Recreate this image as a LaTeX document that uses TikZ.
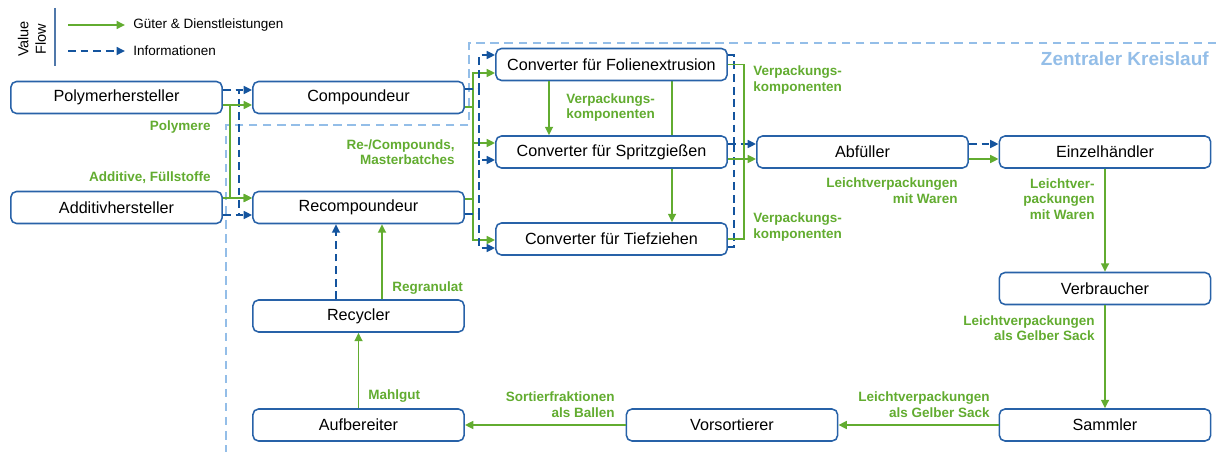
\documentclass[tikz,border=0pt]{standalone}
\usepackage{fontspec}
\setmainfont{Liberation Sans}
\setsansfont{Liberation Sans}
\usepackage{tikz}
\usetikzlibrary{calc, arrows.meta, backgrounds}
\definecolor{goodsgreen}{RGB}{98,172,48}
\definecolor{infoblue}{RGB}{20,84,158}
\definecolor{boxblue}{RGB}{40,98,168}
\definecolor{zoneblue}{RGB}{148,190,232}
\definecolor{legendblue}{RGB}{80,120,170}

\tikzset{
  actor/.style={draw=boxblue, line width=1.1pt, rounded corners=4pt, fill=white,
    minimum width=5.28cm, minimum height=0.8cm, inner sep=0pt,
    font=\fontsize{11.5}{13}\selectfont, text=black},
  converter/.style={actor, minimum width=5.78cm},
  goods/.style={goodsgreen, line width=1.4pt, -{Triangle[length=6pt,width=5.6pt]}},
  goodsline/.style={goodsgreen, line width=1.4pt},
  info/.style={infoblue, line width=1.4pt, dash pattern=on 5.5pt off 3.5pt, -{Triangle[length=6pt,width=5.6pt]}},
  infoline/.style={infoblue, line width=1.4pt, dash pattern=on 5.5pt off 3.5pt},
  flowlabel/.style={text=goodsgreen, font=\fontsize{9.6}{11}\selectfont\bfseries, inner sep=0pt},
  legendtext/.style={anchor=west, inner sep=0pt, font=\fontsize{9.6}{11}\selectfont, text=black},
}

\begin{document}
\begin{tikzpicture}[x=0.025cm, y=-0.025cm]\sffamily
  \useasboundingbox (0,0) rectangle (1216,452);
  \coordinate (pol) at (116.5,97.5);
  \coordinate (add) at (116.5,207.5);
  \coordinate (cmp) at (358.5,97.5);
  \coordinate (rcmp) at (358.5,207.5);
  \coordinate (fol) at (611.5,64.5);
  \coordinate (spr) at (611.5,152);
  \coordinate (tfz) at (611.5,239);
  \coordinate (abf) at (862.5,152);
  \coordinate (ezh) at (1105,152);
  \coordinate (vbr) at (1105,288.5);
  \coordinate (sml) at (1105,425);
  \coordinate (vst) at (732,425);
  \coordinate (afb) at (358.5,425);
  \coordinate (rcy) at (358.5,316);
  \coordinate (lgA) at (68,25);
  \coordinate (lgB) at (125,25);
  \coordinate (lgC) at (68,51);
  \coordinate (lgD) at (125,51);

  \draw[zoneblue, line width=1.4pt, dash pattern=on 6pt off 4pt]
        (1216,43) -- (469,43) -- (469,125) -- (226,125) -- (226,452);
  \node[anchor=east, inner sep=0pt, text=zoneblue, font=\fontsize{13.5}{15}\selectfont\bfseries]
        (zonetitle) at (1209,59) {Zentraler Kreislauf};

  \draw[legendblue, line width=1pt] (55,8) -- (55,66);
  \node[rotate=90, align=center, inner sep=0pt, font=\fontsize{10.3}{12.5}\selectfont, text=black]
        (valueflow) at (32,39) {Value\\Flow};
  \draw[goods] (lgA) -- (lgB);
  \node[legendtext] (lggoods) at (133,25) {Güter \& Dienstleistungen};
  \draw[info] (lgC) -- (lgD);
  \node[legendtext] (lginfo) at (133,51) {Informationen};

  \node[actor] (polymer) at (pol) {Polymerhersteller};
  \node[actor] (additiv) at (add) {Additivhersteller};
  \node[actor] (compound) at (cmp) {Compoundeur};
  \node[actor] (recompound) at (rcmp) {Recompoundeur};
  \node[converter] (folie) at (fol) {Converter für Folienextrusion};
  \node[converter] (spritz) at (spr) {Converter für Spritzgießen};
  \node[converter] (tief) at (tfz) {Converter für Tiefziehen};
  \node[actor] (abfueller) at (abf) {Abfüller};
  \node[actor] (handel) at (ezh) {Einzelhändler};
  \node[actor] (verbraucher) at (vbr) {Verbraucher};
  \node[actor] (sammler) at (sml) {Sammler};
  \node[actor] (vorsort) at (vst) {Vorsortierer};
  \node[actor] (aufbereiter) at (afb) {Aufbereiter};
  \node[actor] (recycler) at (rcy) {Recycler};

  % Hersteller -> Compoundeure
  \draw[info] ($(polymer.east)+(0,-7.5)$) -- ($(compound.west)+(0,-7.5)$);
  \draw[infoline] ($(polymer.east)+(0,-7.5)$) -| ($(recompound.west)+(-13,7.5)$);
  \draw[info] ($(additiv.east)+(0,7.5)$) -- ($(recompound.west)+(0,7.5)$);
  \draw[goods] ($(polymer.east)+(0,7.5)$) -- ($(compound.west)+(0,7.5)$);
  \draw[goods] ($(polymer.east)+(0,7.5)$) -| ($(recompound.west)+(-22,-9.5)$) -- ($(recompound.west)+(0,-9.5)$);
  \draw[goods] ($(additiv.east)+(0,-9.5)$) -- ($(recompound.west)+(0,-9.5)$);

  % Compoundeure -> Converter
  \draw[goods] ($(compound.east)+(0,9.5)$) -| ($(folie.west)+(-22,8.5)$) -- ($(folie.west)+(0,8.5)$);
  \draw[goods] ($(compound.east)+(0,9.5)$) -| ($(spritz.west)+(-22,-9)$) -- ($(spritz.west)+(0,-9)$);
  \draw[goods] ($(recompound.east)+(0,-8.5)$) -| ($(tief.west)+(-22,1)$) -- ($(tief.west)+(0,1)$);
  \draw[goodsline] ($(recompound.east)+(0,-8.5)$) -| ($(spritz.west)+(-22,-9)$);
  \draw[info] ($(compound.east)+(0,-8.5)$) -| ($(folie.west)+(-16,-9.5)$) -- ($(folie.west)+(0,-9.5)$);
  \draw[info] ($(compound.east)+(0,-8.5)$) -| ($(spritz.west)+(-16,8)$) -- ($(spritz.west)+(0,8)$);
  \draw[info] ($(recompound.east)+(0,6.5)$) -| ($(tief.west)+(-16,9)$) -- ($(tief.west)+(0,9)$);
  \draw[infoline] ($(recompound.east)+(0,6.5)$) -| ($(spritz.west)+(-16,8)$);

  % Converter untereinander
  \draw[goods] ($(folie.south)+(-62.5,0)$) -- ($(spritz.north)+(-62.5,0)$);
  \begin{scope}[on background layer]
    \draw[goods] ($(folie.south)+(60.5,0)$) -- ($(tief.north)+(60.5,0)$);
  \end{scope}

  % Converter -> Abfueller
  \draw[infoline] ($(folie.east)+(0,-9.5)$) -| ($(abfueller.west)+(-22,-8)$);
  \draw[infoline] ($(tief.east)+(0,8)$) -| ($(abfueller.west)+(-22,-8)$);
  \draw[info] ($(spritz.east)+(0,-8)$) -- ($(abfueller.west)+(0,-8)$);
  \draw[goodsline] (folie.east) -| ($(abfueller.west)+(-12,7)$);
  \draw[goodsline] (tief.east) -| ($(abfueller.west)+(-12,7)$);
  \draw[goods] ($(spritz.east)+(0,7)$) -- ($(abfueller.west)+(0,7)$);

  % Kreislauf
  \draw[info] ($(abfueller.east)+(0,-8)$) -- ($(handel.west)+(0,-8)$);
  \draw[goods] ($(abfueller.east)+(0,7)$) -- ($(handel.west)+(0,7)$);
  \draw[goods] (handel) -- (verbraucher);
  \draw[goods] (verbraucher) -- (sammler);
  \draw[goods] (sammler) -- (vorsort);
  \draw[goods] (vorsort) -- (aufbereiter);
  \draw[goods] (aufbereiter) -- (recycler);
  \draw[goods] ($(recycler.north)+(23.5,0)$) -- ($(recompound.south)+(23.5,0)$);
  \draw[info] ($(recycler.north)+(-22.5,0)$) -- ($(recompound.south)+(-22.5,0)$);

  \node[flowlabel, anchor=east] (lblpoly) at (211,127) {Polymere};
  \node[flowlabel, anchor=east] (lbladd) at (211,178) {Additive, Füllstoffe};
  \node[flowlabel, anchor=east, align=right] (lblcomp) at (455,152) {Re-/Compounds,\\Masterbatches};
  \node[flowlabel, anchor=west, align=left] (lblfol) at (566,107.5) {Verpackungs-\\komponenten};
  \node[flowlabel, anchor=west, align=left] (lblpacktop) at (753,80) {Verpackungs-\\komponenten};
  \node[flowlabel, anchor=west, align=left] (lblpackbot) at (753,227) {Verpackungs-\\komponenten};
  \node[flowlabel, anchor=east, align=right] (lblabf) at (958,190.5) {Leichtverpackungen\\mit Waren};
  \node[flowlabel, anchor=east, align=right] (lblhandel) at (1095,199) {Leichtver-\\packungen\\mit Waren};
  \node[flowlabel, anchor=east, align=right] (lblverb) at (1095,328) {Leichtverpackungen\\als Gelber Sack};
  \node[flowlabel, anchor=east, align=right] (lblsamm) at (990,404.5) {Leichtverpackungen\\als Gelber Sack};
  \node[flowlabel, anchor=east, align=right] (lblvors) at (615,404.5) {Sortierfraktionen\\als Ballen};
  \node[flowlabel, anchor=west] (lblaufb) at (368,396) {Mahlgut};
  \node[flowlabel, anchor=west] (lblrecy) at (392,288) {Regranulat};
\end{tikzpicture}
\end{document}
